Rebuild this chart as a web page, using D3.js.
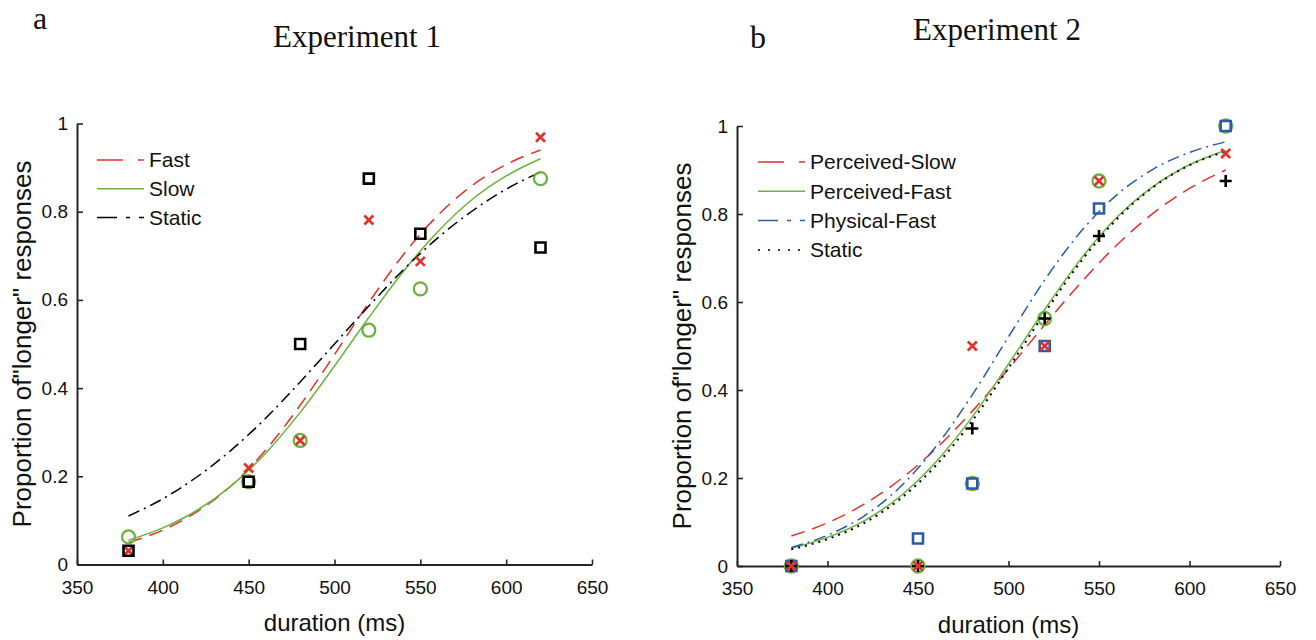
<!DOCTYPE html>
<html>
<head>
<meta charset="utf-8">
<script src="https://cdn.jsdelivr.net/npm/d3@7"></script>
<style>
  body { margin: 0; background: #fff; }
  text { font-family: "Liberation Sans", Arial, sans-serif; fill: #111; }
</style>
</head>
<body>
<div id="chart"></div>
<script>
var durations    = [380, 450, 480, 520, 550, 620],
    fitDurations = [380, 400, 420, 440, 460, 480, 500, 520, 540, 560, 580, 600, 620],
    xTicks       = [350, 400, 450, 500, 550, 600, 650],
    yTicks       = [0, 0.2, 0.4, 0.6, 0.8, 1],
    yTickLabels  = ['0', '0.2', '0.4', '0.6', '0.8', '1'];

// Experiment 1: observed proportions
var exp1Fast   = [0.03125, 0.21875, 0.28125, 0.78125, 0.6875, 0.96875],
    exp1Slow   = [0.0625, 0.1875, 0.28125, 0.53125, 0.625, 0.875],
    exp1Static = [0.03125, 0.1875, 0.5, 0.875, 0.75, 0.71875];

// Experiment 1: fitted curves
var exp1FastFit   = [0.05, 0.078, 0.120, 0.179, 0.260, 0.361, 0.476, 0.594, 0.702, 0.791, 0.859, 0.907, 0.94],
    exp1SlowFit   = [0.055, 0.083, 0.123, 0.179, 0.253, 0.345, 0.450, 0.560, 0.664, 0.754, 0.827, 0.881, 0.92],
    exp1StaticFit = [0.11, 0.149, 0.199, 0.260, 0.332, 0.414, 0.5, 0.586, 0.668, 0.740, 0.801, 0.851, 0.89];

// Experiment 2: observed proportions
var exp2PercSlow = [0, 0, 0.5, 0.5, 0.875, 0.9375],
    exp2PercFast = [0, 0, 0.1875, 0.5625, 0.875, 1],
    exp2PhysFast = [0, 0.0625, 0.1875, 0.5, 0.8125, 1],
    exp2Static   = [0, 0, 0.3125, 0.5625, 0.75, 0.875];

// Experiment 2: fitted curves
var exp2PercSlowFit = [0.068, 0.098, 0.140, 0.196, 0.267, 0.352, 0.448, 0.548, 0.644, 0.730, 0.802, 0.858, 0.90],
    exp2PercFastFit = [0.04, 0.065, 0.102, 0.158, 0.237, 0.339, 0.459, 0.583, 0.698, 0.793, 0.863, 0.912, 0.945],
    exp2PhysFastFit = [0.042, 0.070, 0.113, 0.179, 0.272, 0.389, 0.521, 0.650, 0.760, 0.844, 0.902, 0.940, 0.964],
    exp2StaticFit   = [0.038, 0.061, 0.097, 0.152, 0.229, 0.330, 0.450, 0.575, 0.692, 0.789, 0.861, 0.911, 0.942];

var RED = '#e2302b', GREEN = '#6cb33e', BLUE = '#2c5ba8', BLACK = '#000';

var svg = d3.select('#chart').append('svg')
    .attr('width', 1316)
    .attr('height', 640);

var markers = {
    x:      'M-4.5,-4.5L4.5,4.5M-4.5,4.5L4.5,-4.5',
    circle: 'M-6.5,0A6.5,6.5 0 1,0 6.5,0A6.5,6.5 0 1,0 -6.5,0Z',
    square: 'M-5,-5H5V5H-5Z',
    plus:   'M-6,0H6M0,-6V6'
};

function drawPanel(p) {
    var x = d3.scaleLinear().domain([350, 650]).range([p.left, p.right]),
        y = d3.scaleLinear().domain([0, 1]).range([p.bottom, p.top]),
        g = svg.append('g');

    var xAxis = g.append('g')
        .attr('transform', 'translate(0,' + p.bottom + ')')
        .call(d3.axisBottom(x).tickValues(xTicks).tickSizeInner(-5).tickSizeOuter(0).tickPadding(16));
    var yAxis = g.append('g')
        .attr('transform', 'translate(' + p.left + ',0)')
        .call(d3.axisLeft(y).tickValues(yTicks).tickSizeInner(-6).tickSizeOuter(0).tickPadding(9)
            .tickFormat(function(d, i) { return yTickLabels[i]; }));

    [xAxis, yAxis].forEach(function(a) {
        a.select('.domain').attr('stroke', '#262626').attr('stroke-width', 2);
        a.selectAll('.tick line').attr('stroke', '#262626').attr('stroke-width', 1.6);
        a.selectAll('.tick text')
            .attr('font-size', 19)
            .style('font-family', '"Liberation Sans", Arial, sans-serif')
            .style('fill', '#111');
    });

    g.append('text')
        .attr('x', (p.left + p.right) / 2)
        .attr('y', p.xLabelY)
        .attr('text-anchor', 'middle')
        .attr('font-size', 24)
        .text('duration (ms)');

    g.append('text')
        .attr('transform', 'translate(' + p.yLabelX + ',' + (p.top + p.bottom) / 2 + ') rotate(-90)')
        .attr('text-anchor', 'middle')
        .attr('dy', '0.35em')
        .attr('font-size', 26)
        .text('Proportion of"longer" responses');

    var line = d3.line()
        .x(function(d) { return x(d[0]); })
        .y(function(d) { return y(d[1]); })
        .curve(d3.curveMonotoneX);

    p.series.forEach(function(s) {
        g.append('path')
            .datum(d3.zip(fitDurations, s.fit))
            .attr('d', line)
            .attr('fill', 'none')
            .attr('stroke', s.color)
            .attr('stroke-width', s.width || 1.5)
            .attr('stroke-dasharray', s.dash);
    });

    p.markerOrder.forEach(function(i) {
        var s = p.series[i];
        g.selectAll(null)
            .data(d3.zip(durations, s.points))
            .enter()
            .append('path')
            .attr('transform', function(d) { return 'translate(' + x(d[0]) + ',' + y(d[1]) + ')'; })
            .attr('d', markers[s.marker])
            .attr('fill', 'none')
            .attr('stroke', s.color)
            .attr('stroke-width', s.marker === 'circle' ? 2.3 : 2.6);
    });

    // legend (lines only)
    p.series.forEach(function(s, i) {
        var ly = p.legendY + i * p.legendStep;
        g.append('line')
            .attr('x1', p.legendX).attr('x2', p.legendX + 47)
            .attr('y1', ly).attr('y2', ly)
            .attr('stroke', s.color)
            .attr('stroke-width', 1.5)
            .attr('stroke-dasharray', s.legendDash);
        g.append('text')
            .attr('x', p.legendX + 52)
            .attr('y', ly)
            .attr('dy', '0.35em')
            .attr('font-size', 21)
            .text(s.name);
    });
}

drawPanel({
    left: 77, right: 592, top: 123.5, bottom: 564.5,
    xLabelY: 631, yLabelX: 22,
    legendX: 97, legendY: 160, legendStep: 28.7,
    markerOrder: [1, 0, 2],
    series: [
        { name: 'Fast',   points: exp1Fast,   fit: exp1FastFit,   color: RED,   marker: 'x',
          dash: '14 8', legendDash: '26 15' },
        { name: 'Slow',   points: exp1Slow,   fit: exp1SlowFit,   color: GREEN, marker: 'circle',
          dash: null, legendDash: null },
        { name: 'Static', points: exp1Static, fit: exp1StaticFit, color: BLACK, marker: 'square',
          dash: '12 5 2 5', legendDash: '20 9 4 9' }
    ]
});

drawPanel({
    left: 737, right: 1280, top: 126, bottom: 566,
    xLabelY: 633, yLabelX: 682,
    legendX: 758, legendY: 162, legendStep: 29.3,
    markerOrder: [1, 2, 3, 0],
    series: [
        { name: 'Perceived-Slow', points: exp2PercSlow, fit: exp2PercSlowFit, color: RED,   marker: 'x',
          dash: '14 8', legendDash: '26 15' },
        { name: 'Perceived-Fast', points: exp2PercFast, fit: exp2PercFastFit, color: GREEN, marker: 'circle',
          dash: null, legendDash: null },
        { name: 'Physical-Fast',  points: exp2PhysFast, fit: exp2PhysFastFit, color: BLUE,  marker: 'square',
          dash: '12 5 2 5', legendDash: '20 9 4 9' },
        { name: 'Static',         points: exp2Static,   fit: exp2StaticFit,   color: BLACK, marker: 'plus',
          dash: '2 5', width: 2, legendDash: '2 8' }
    ]
});

// panel letters and titles (serif, set as style so the css rule does not win)
var serif = '"Liberation Serif", "Times New Roman", serif';
function title(x, y, size, anchor, str) {
    svg.append('text')
        .attr('x', x).attr('y', y)
        .attr('text-anchor', anchor)
        .attr('font-size', size)
        .style('font-family', serif)
        .text(str);
}
title(33, 29, 32, 'start', 'a');
title(357, 47, 31, 'middle', 'Experiment 1');
title(750, 48, 32, 'start', 'b');
title(997, 40, 31, 'middle', 'Experiment 2');
</script>
</body>
</html>
